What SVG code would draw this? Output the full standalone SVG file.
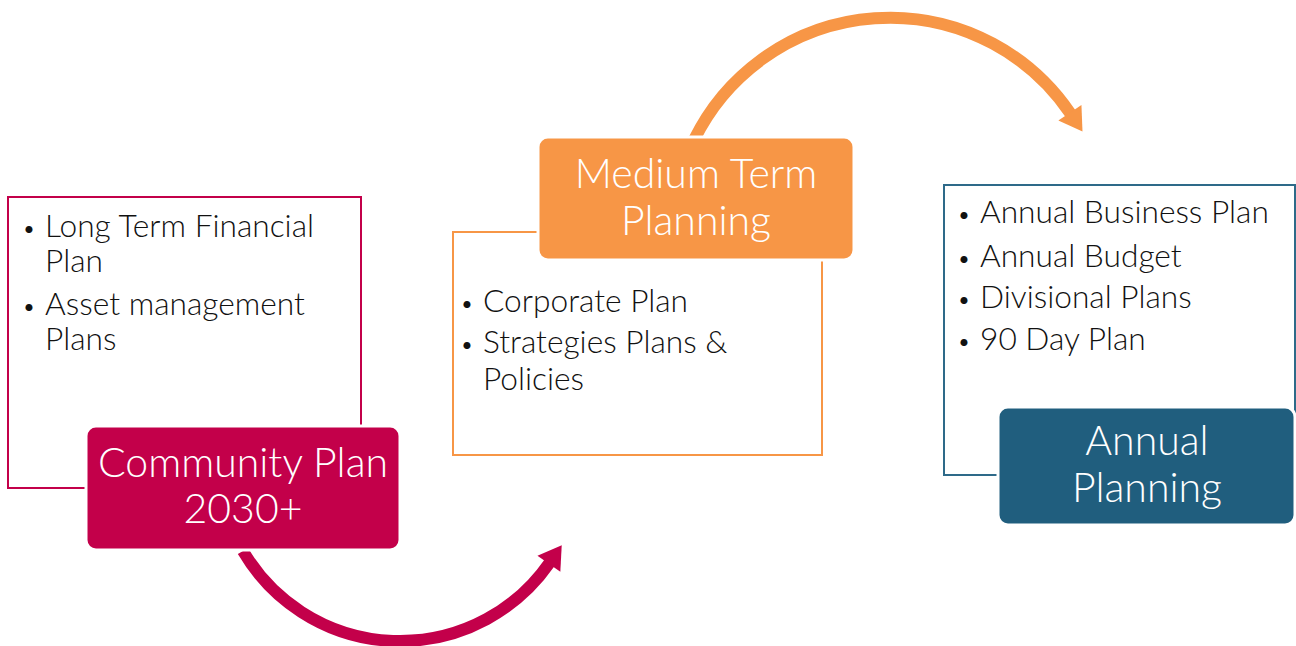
<svg xmlns="http://www.w3.org/2000/svg" width="1296" height="646" viewBox="0 0 1296 646">
  <style>
    .outline { fill: #ffffff; stroke-width: 2; }
    .title { font-family: Lato, "Open Sans", "Liberation Sans", sans-serif; font-weight: 300; font-size: 41px; fill: #ffffff; text-anchor: middle; }
    .item { font-family: Lato, "Open Sans", "Liberation Sans", sans-serif; font-weight: 300; font-size: 31.7px; fill: #111111; }
    .bul { font-size: 24px; }
    .conn { fill: none; stroke-width: 12; }
  </style>
  <defs>
    <marker id="headPink" markerUnits="userSpaceOnUse" markerWidth="30" markerHeight="30" viewBox="0 -14 22 28" refX="1" refY="0" orient="auto">
      <path d="M0,-13 L21,0 L0,13 Z" fill="#C3004A"/>
    </marker>
    <marker id="headOrange" markerUnits="userSpaceOnUse" markerWidth="30" markerHeight="30" viewBox="0 -14 22 28" refX="1" refY="0" orient="auto">
      <path d="M0,-13 L21,0 L0,13 Z" fill="#F79646"/>
    </marker>
  </defs>

  <g id="connectors">
    <path class="conn" stroke="#C3004A" d="M243,551 A182,182 0 0 0 549.5,562.9" marker-end="url(#headPink)"/>
    <path class="conn" stroke="#F79646" d="M694,140 A218,218 0 0 1 1070.5,113.7" marker-end="url(#headOrange)"/>
  </g>

  <g id="community">
    <rect class="outline" x="8" y="197" width="353" height="291" stroke="#C3004A"/>
    <text class="item" x="22" y="237"><tspan class="bul">•</tspan><tspan x="45">Long Term Financial</tspan></text>
    <text class="item" x="45" y="272">Plan</text>
    <text class="item" x="22" y="315"><tspan class="bul">•</tspan><tspan x="45">Asset management</tspan></text>
    <text class="item" x="45" y="350">Plans</text>
    <rect x="86" y="426" width="314" height="124" rx="10" fill="#C3004A" stroke="#ffffff" stroke-width="3"/>
    <text class="title" x="243" y="477">Community Plan</text>
    <text class="title" x="243" y="523">2030+</text>
  </g>

  <g id="medium">
    <rect class="outline" x="453" y="232" width="369" height="223" stroke="#F79646"/>
    <rect x="538" y="137" width="316" height="123" rx="10" fill="#F79646" stroke="#ffffff" stroke-width="3"/>
    <text class="title" x="696" y="188">Medium Term</text>
    <text class="title" x="696" y="235">Planning</text>
    <text class="item" x="460" y="312"><tspan class="bul">•</tspan><tspan x="483">Corporate Plan</tspan></text>
    <text class="item" x="460" y="353"><tspan class="bul">•</tspan><tspan x="483">Strategies Plans &amp;</tspan></text>
    <text class="item" x="483" y="390">Policies</text>
  </g>

  <g id="annual">
    <rect class="outline" x="944" y="185" width="351" height="290" stroke="#2E6A89"/>
    <text class="item" x="957" y="223"><tspan class="bul">•</tspan><tspan x="980">Annual Business Plan</tspan></text>
    <text class="item" x="957" y="267"><tspan class="bul">•</tspan><tspan x="980">Annual Budget</tspan></text>
    <text class="item" x="957" y="308"><tspan class="bul">•</tspan><tspan x="980">Divisional Plans</tspan></text>
    <text class="item" x="957" y="350"><tspan class="bul">•</tspan><tspan x="980">90 Day Plan</tspan></text>
    <rect x="998" y="407" width="297" height="118" rx="10" fill="#205E7E" stroke="#ffffff" stroke-width="3"/>
    <text class="title" x="1147" y="455">Annual</text>
    <text class="title" x="1147" y="502">Planning</text>
  </g>
</svg>
